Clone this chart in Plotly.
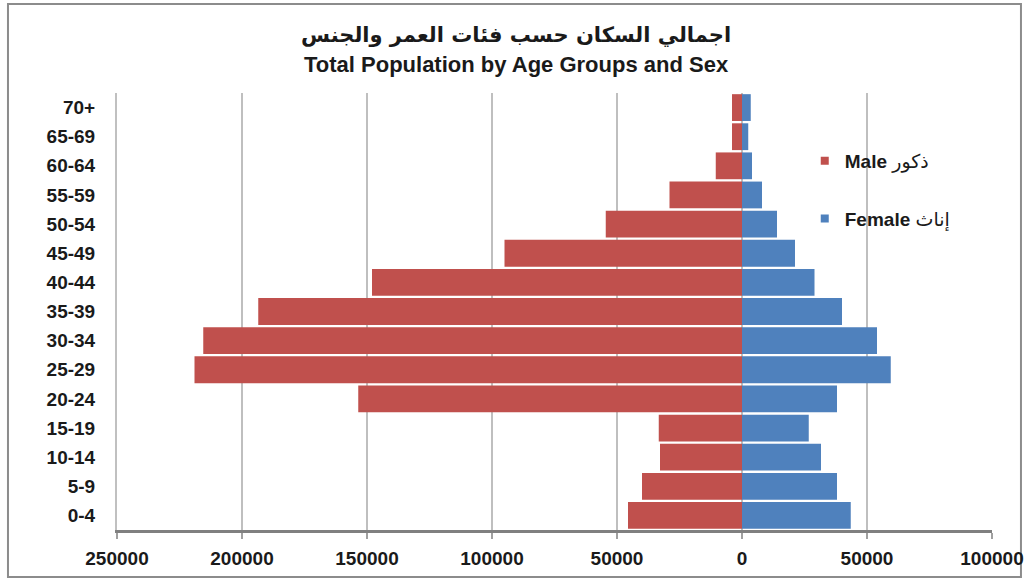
import plotly.graph_objects as go

age_groups = ["0-4", "5-9", "10-14", "15-19", "20-24", "25-29", "30-34", "35-39",
              "40-44", "45-49", "50-54", "55-59", "60-64", "65-69", "70+"]
male = [45600, 40000, 32800, 33300, 153500, 219000, 215500, 193500,
        148000, 95000, 54500, 29000, 10500, 4000, 4000]
female = [43500, 38000, 31600, 26700, 38000, 59500, 54000, 40000,
          29000, 21200, 14000, 8000, 4000, 2500, 3500]
tick_vals = [-250000, -200000, -150000, -100000, -50000, 0, 50000, 100000]
tick_text = ["250000", "200000", "150000", "100000", "50000", "0", "50000", "100000"]

male_label = "<b>Male</b> ذكور"
female_label = "<b>Female</b> إناث"
title_ar = "اجمالي السكان حسب فئات العمر والجنس"
title_en = "Total Population by Age Groups and Sex"

male_color = "#C0504D"
female_color = "#4F81BD"
font_main = "Liberation Sans, Arial, DejaVu Sans, sans-serif"
text_color = "#1a1a1a"

fig = go.Figure()
fig.add_trace(go.Bar(
    y=age_groups, x=[-v for v in male], orientation="h", name=male_label,
    marker=dict(color=male_color, line=dict(width=0)), showlegend=False,
))
fig.add_trace(go.Bar(
    y=age_groups, x=female, orientation="h", name=female_label,
    marker=dict(color=female_color, line=dict(width=0)), showlegend=False,
))
# legend entries (small square keys)
fig.add_trace(go.Scatter(
    x=[None], y=[None], mode="markers", name=male_label, legendgroup="m",
    marker=dict(symbol="square", size=8, color=male_color),
))
fig.add_trace(go.Scatter(
    x=[None], y=[None], mode="markers", name=female_label, legendgroup="f",
    marker=dict(symbol="square", size=8, color=female_color),
))

fig.update_layout(
    width=1027, height=586, autosize=False,
    margin=dict(l=117, r=35, t=93, b=56, autoexpand=False),
    paper_bgcolor="white", plot_bgcolor="white",
    barmode="overlay", bargap=0.08,
    font=dict(family=font_main, color=text_color),
    showlegend=True,
    legend=dict(
        x=0.786, y=0.888, xanchor="left", yanchor="top",
        bgcolor="rgba(0,0,0,0)", traceorder="grouped", tracegroupgap=30,
        font=dict(size=19, family=font_main, color=text_color),
        itemwidth=30,
    ),
    xaxis=dict(
        range=[-250000, 100000], tickvals=tick_vals, ticktext=tick_text,
        showgrid=True, gridcolor="#BFBFBF", gridwidth=2, zeroline=False,
        showline=True, linecolor="#808080", linewidth=3,
        ticks="outside", ticklen=6, tickcolor="#A0A0A0", tickwidth=2,
        ticklabelstandoff=3, automargin=False,
        tickfont=dict(size=19, family=font_main, color=text_color, weight="bold"),
        fixedrange=True,
    ),
    yaxis=dict(
        type="category", categoryorder="array", categoryarray=age_groups,
        range=[-0.5, 14.5],
        showgrid=False, zeroline=False,
        showline=True, linecolor="#C0C0C0", linewidth=2,
        ticks="", ticklabelstandoff=16, automargin=False,
        tickfont=dict(size=19, family=font_main, color=text_color, weight="bold"),
        fixedrange=True,
    ),
    annotations=[
        dict(text="<b>" + title_ar + "</b>", xref="paper", yref="paper", x=0.456, y=1.133,
             xanchor="center", yanchor="middle", showarrow=False,
             font=dict(size=21, family="DejaVu Sans, sans-serif", color=text_color)),
        dict(text="<b>" + title_en + "</b>", xref="paper", yref="paper", x=0.456, y=1.066,
             xanchor="center", yanchor="middle", showarrow=False,
             font=dict(size=22, family=font_main, color=text_color)),
    ],
    shapes=[
        dict(type="rect", xref="paper", yref="paper",
             x0=-0.1246, x1=1.0331, y0=-0.1076, y1=1.2037,
             line=dict(color="#8C8C8C", width=2), fillcolor="rgba(0,0,0,0)",
             layer="below"),
    ],
)

fig.write_html(
    "out.html",
    config={"displayModeBar": False},
    post_script="document.body.style.margin='0';document.body.style.padding='0';",
)
